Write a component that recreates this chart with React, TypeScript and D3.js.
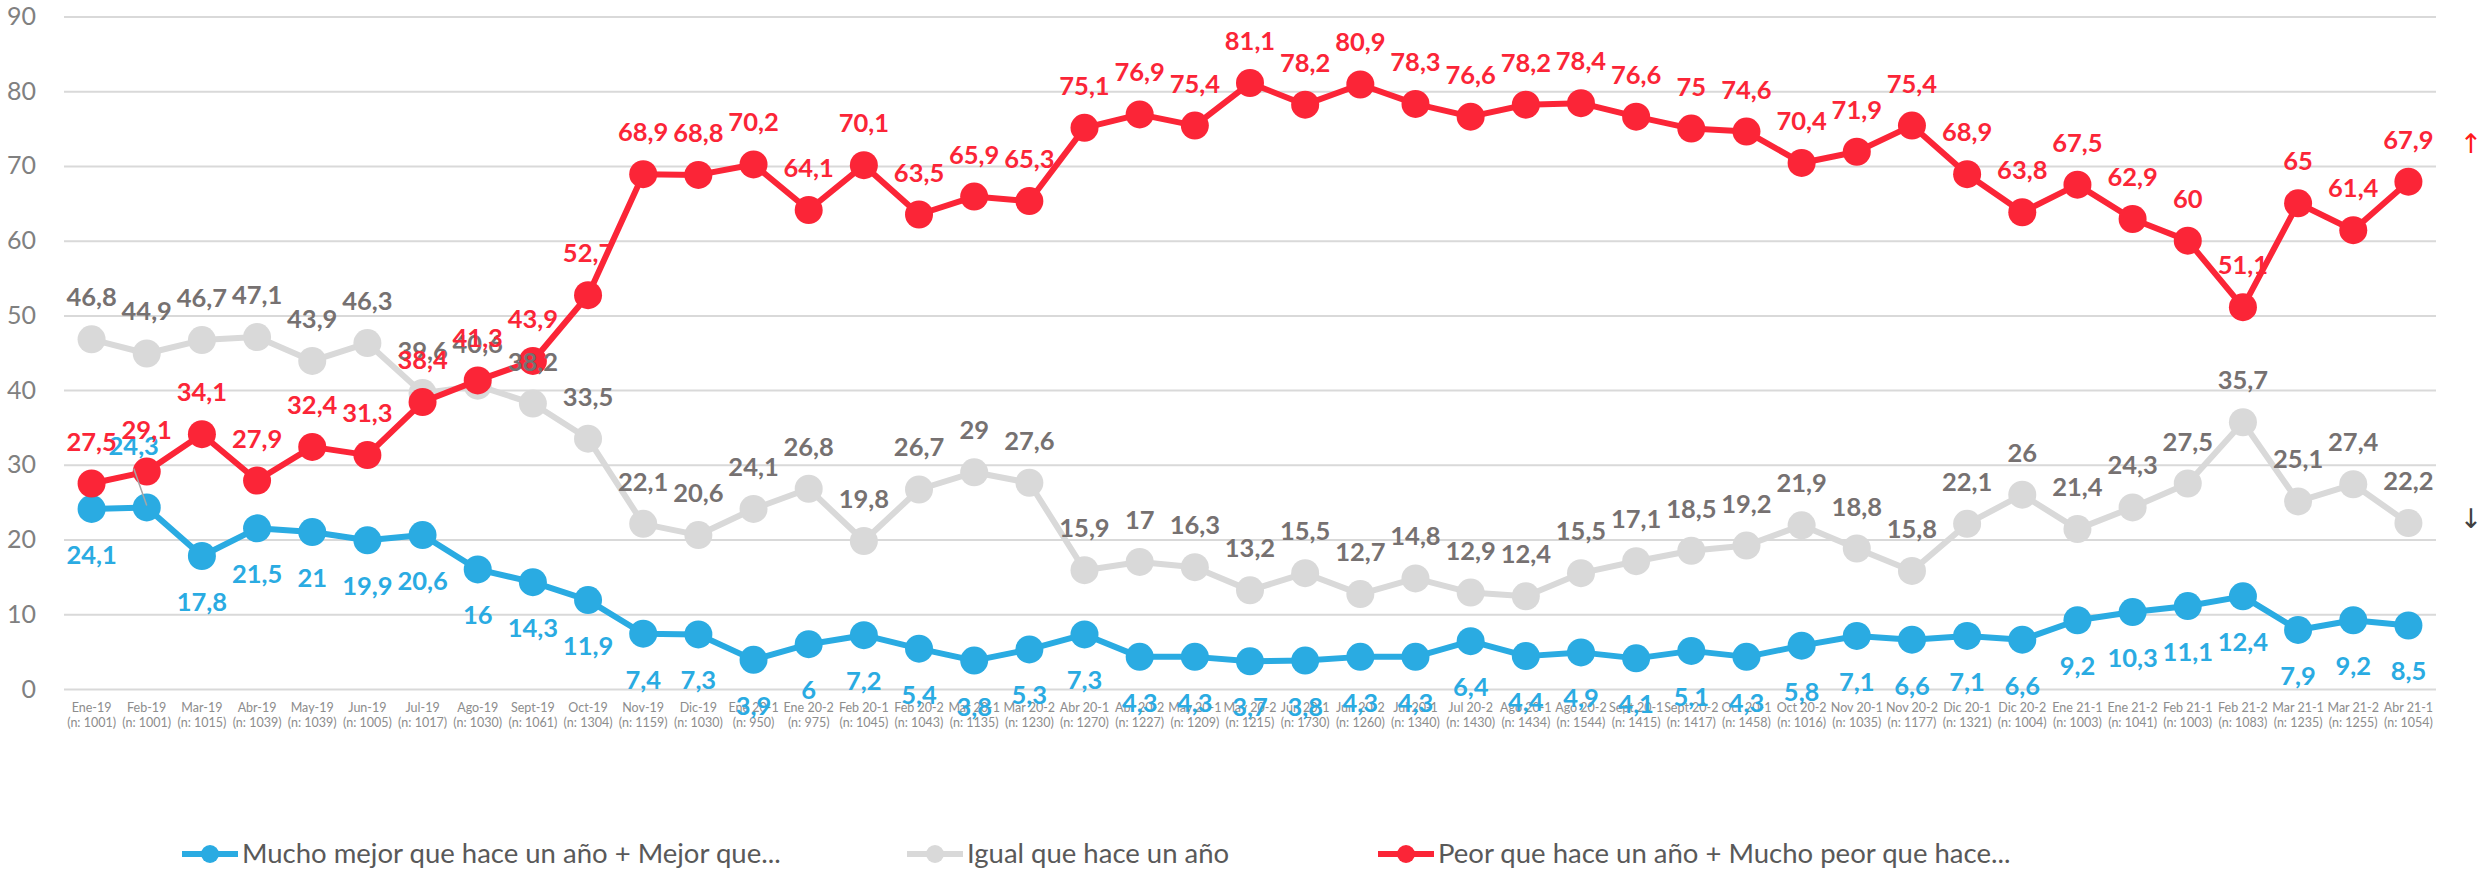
import React, { Component } from "react";
import * as d3 from "d3";

const categories = [
  "Ene-19", "Feb-19", "Mar-19", "Abr-19", "May-19", "Jun-19", "Jul-19", "Ago-19", "Sept-19", "Oct-19",
  "Nov-19", "Dic-19", "Ene 20-1", "Ene 20-2", "Feb 20-1", "Feb 20-2", "Mar 20-1", "Mar 20-2", "Abr 20-1", "Abr 20-2",
  "May 20-1", "May 20-2", "Jun 20-1", "Jun 20-2", "Jul 20-1", "Jul 20-2", "Ago 20-1", "Ago 20-2", "Sept 20-1", "Sept 20-2",
  "Oct 20-1", "Oct 20-2", "Nov 20-1", "Nov 20-2", "Dic 20-1", "Dic 20-2", "Ene 21-1", "Ene 21-2", "Feb 21-1", "Feb 21-2",
  "Mar 21-1", "Mar 21-2", "Abr 21-1"
];

const sampleSizes = [
  1001, 1001, 1015, 1039, 1039, 1005, 1017, 1030, 1061, 1304,
  1159, 1030, 950, 975, 1045, 1043, 1135, 1230, 1270, 1227,
  1209, 1215, 1730, 1260, 1340, 1430, 1434, 1544, 1415, 1417,
  1458, 1016, 1035, 1177, 1321, 1004, 1003, 1041, 1003, 1083,
  1235, 1255, 1054
];

const mejorValues = [
  24.1, 24.3, 17.8, 21.5, 21, 19.9, 20.6, 16, 14.3, 11.9,
  7.4, 7.3, 3.9, 6, 7.2, 5.4, 3.8, 5.3, 7.3, 4.3,
  4.3, 3.7, 3.8, 4.3, 4.3, 6.4, 4.4, 4.9, 4.1, 5.1,
  4.3, 5.8, 7.1, 6.6, 7.1, 6.6, 9.2, 10.3, 11.1, 12.4,
  7.9, 9.2, 8.5
];

const igualValues = [
  46.8, 44.9, 46.7, 47.1, 43.9, 46.3, 39.6, 40.6, 38.2, 33.5,
  22.1, 20.6, 24.1, 26.8, 19.8, 26.7, 29, 27.6, 15.9, 17,
  16.3, 13.2, 15.5, 12.7, 14.8, 12.9, 12.4, 15.5, 17.1, 18.5,
  19.2, 21.9, 18.8, 15.8, 22.1, 26, 21.4, 24.3, 27.5, 35.7,
  25.1, 27.4, 22.2
];

const peorValues = [
  27.5, 29.1, 34.1, 27.9, 32.4, 31.3, 38.4, 41.3, 43.9, 52.7,
  68.9, 68.8, 70.2, 64.1, 70.1, 63.5, 65.9, 65.3, 75.1, 76.9,
  75.4, 81.1, 78.2, 80.9, 78.3, 76.6, 78.2, 78.4, 76.6, 75,
  74.6, 70.4, 71.9, 75.4, 68.9, 63.8, 67.5, 62.9, 60, 51.1,
  65, 61.4, 67.9
];

const yTicks = [0, 10, 20, 30, 40, 50, 60, 70, 80, 90];

const seriesNames = [
  "Mucho mejor que hace un año + Mejor que...",
  "Igual que hace un año",
  "Peor que hace un año + Mucho peor que hace..."
];

const FONT = "Lato, 'Open Sans', sans-serif";

export default class App extends Component {
  svgRef: React.RefObject<SVGSVGElement | null>;

  constructor(props: any) {
    super(props);
    this.svgRef = React.createRef();
    this.createGraph = this.createGraph.bind(this);
    this.destroyGraph = this.destroyGraph.bind(this);
  }

  componentDidMount() {
    this.destroyGraph();
    this.createGraph();
  }

  componentWillUnmount() {
    this.destroyGraph();
  }

  createGraph() {
    const svg = d3.select(this.svgRef.current);
    const left = 64;
    const right = 2436;

    const x = d3.scalePoint<string>()
      .domain(categories)
      .range([left, right])
      .padding(0.5);

    const y = d3.scaleLinear()
      .domain([0, 90])
      .range([689, 16.5]);

    const fmt = (v: number) => String(v).replace(".", ",");

    // grid + y labels
    svg.append("g")
      .attr("transform", "translate(" + left + ",0)")
      .call(d3.axisLeft(y).tickValues(yTicks).tickSize(-(right - left)).tickPadding(28))
      .call(g => g.select(".domain").remove())
      .call(g => g.selectAll(".tick line").attr("stroke", "#d9d9d9").attr("stroke-width", 2))
      .call(g => g.selectAll(".tick text")
        .attr("fill", "#808080")
        .style("font-family", FONT)
        .style("font-size", "25px"));

    // x labels, two rows
    const xLabels = svg.append("g")
      .selectAll("text")
      .data(categories)
      .enter()
      .append("text")
      .attr("text-anchor", "middle")
      .attr("fill", "#8c8c8c")
      .style("font-family", FONT)
      .style("font-size", "12.5px");
    xLabels.append("tspan")
      .attr("x", d => x(d) as number)
      .attr("y", 712)
      .text(d => d);
    xLabels.append("tspan")
      .attr("x", d => x(d) as number)
      .attr("y", 727)
      .text((d, i) => "(n: " + sampleSizes[i] + ")");

    const series = [
      { name: seriesNames[0], values: mejorValues, color: "#2aabe2", labelColor: "#2aabe2", below: true },
      { name: seriesNames[1], values: igualValues, color: "#d9d9d9", labelColor: "#767171", below: false },
      { name: seriesNames[2], values: peorValues, color: "#fb2537", labelColor: "#fb2537", below: false }
    ];

    const line = d3.line<number>()
      .x((d, i) => x(categories[i]) as number)
      .y(d => y(d));

    series.forEach(s => {
      svg.append("path")
        .datum(s.values)
        .attr("d", line)
        .attr("fill", "none")
        .attr("stroke", s.color)
        .attr("stroke-width", 6)
        .attr("stroke-linejoin", "round");

      svg.append("g")
        .selectAll("circle")
        .data(s.values)
        .enter()
        .append("circle")
        .attr("cx", (d, i) => x(categories[i]) as number)
        .attr("cy", d => y(d))
        .attr("r", 14)
        .attr("fill", s.color);
    });

    // leader line for the moved label (Feb-19, blue)
    svg.append("line")
      .attr("x1", (x(categories[1]) as number) - 13)
      .attr("y1", y(mejorValues[1]) - 39)
      .attr("x2", x(categories[1]) as number)
      .attr("y2", y(mejorValues[1]) - 2)
      .attr("stroke", "#a6a6a6")
      .attr("stroke-width", 1.5);

    series.forEach((s, si) => {
      svg.append("g")
        .selectAll("text")
        .data(s.values)
        .enter()
        .append("text")
        .attr("x", (d, i) => (x(categories[i]) as number) + (si === 0 && i === 1 ? -13 : 0))
        .attr("y", (d, i) => {
          if (si === 0 && i === 1) return y(d) - 52;
          return s.below ? y(d) + 55 : y(d) - 33;
        })
        .attr("text-anchor", "middle")
        .attr("fill", s.labelColor)
        .style("font-family", FONT)
        .style("font-weight", "bold")
        .style("font-size", "25.5px")
        .text(d => fmt(d));
    });

    // legend
    const legendX = [182, 907, 1378];
    const legend = svg.append("g")
      .selectAll("g")
      .data(series)
      .enter()
      .append("g")
      .attr("transform", (d, i) => "translate(" + legendX[i] + ",854)");
    legend.append("line")
      .attr("x1", 0).attr("x2", 56)
      .attr("stroke", d => d.color)
      .attr("stroke-width", 6);
    legend.append("circle")
      .attr("cx", 28)
      .attr("r", 9)
      .attr("fill", d => d.color);
    legend.append("text")
      .attr("x", 60)
      .attr("y", 9)
      .attr("fill", "#595959")
      .style("font-family", FONT)
      .style("font-size", "27.5px")
      .text(d => d.name);

    // trend arrows
    svg.append("text")
      .attr("x", 2471).attr("y", 153)
      .attr("text-anchor", "middle")
      .attr("fill", "#ff1a1a")
      .style("font-family", "'DejaVu Sans', sans-serif")
      .style("font-size", "27px")
      .text("↑");
    svg.append("text")
      .attr("x", 2471).attr("y", 528)
      .attr("text-anchor", "middle")
      .attr("fill", "#404040")
      .style("font-family", "'DejaVu Sans', sans-serif")
      .style("font-size", "27px")
      .text("↓");
  }

  destroyGraph() {
    d3.select(this.svgRef.current).selectAll("*").remove();
  }

  render() {
    return (
      <div style={{ position: "absolute", left: 0, top: 0, background: "#fff" }}>
        <svg ref={this.svgRef} width={2484} height={870} style={{ display: "block" }} />
      </div>
    );
  }
}
